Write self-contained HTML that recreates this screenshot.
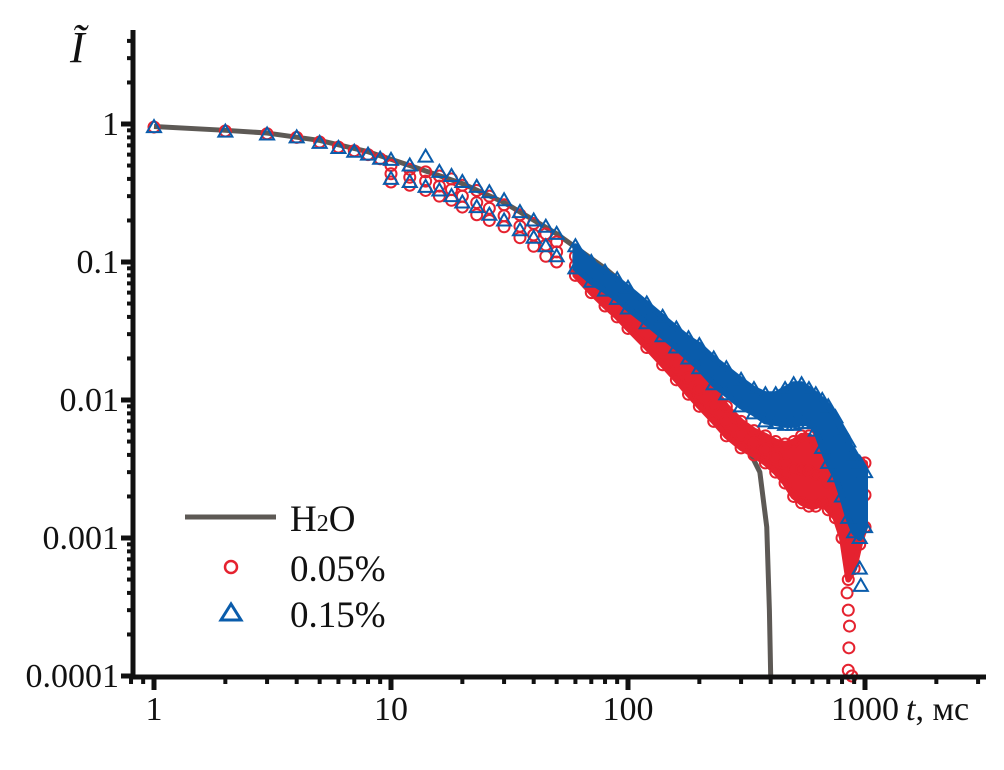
<!DOCTYPE html>
<html><head><meta charset="utf-8"><style>
body{margin:0;background:#fff}
svg text{font-family:"Liberation Serif",serif;fill:#111}
</style></head><body>
<svg id="chart" width="1004" height="770" viewBox="0 0 1004 770" xmlns="http://www.w3.org/2000/svg" style="position:absolute;left:0;top:0">
<g id="bands"></g><g id="marks"></g><g id="axes"></g>
</svg>
<script>
const h2oT=[1,2,3,5,8,12,20,30,50,80,120,180,250,320,360,385,395,400];
const h2oV=[0.96,0.9,0.86,0.76,0.63,0.5,0.37,0.27,0.16,0.09,0.05,0.022,0.009,0.0045,0.003,0.0012,0.0003,0.0001];
const earlyT=[1,2,3,4,5,6,7,8,9];
const redEarly=[0.95,0.89,0.85,0.8,0.74,0.68,0.64,0.6,0.56];
const blueEarly=[0.95,0.88,0.84,0.8,0.73,0.67,0.63,0.6,0.56];
const bandT=[10,12,14,16,18,20,23,26,30,35,40,45,50,60,70,80,90,100,120,140,160,180,200,230,260,300,340,380,420,460,500,540,580,620,660,700,750,800,850,900,950,1000];
const blueHi=[0.55,0.5,0.58,0.45,0.42,0.38,0.35,0.32,0.28,0.23,0.2,0.18,0.16,0.13,0.1,0.085,0.075,0.065,0.05,0.04,0.033,0.028,0.025,0.02,0.017,0.014,0.012,0.011,0.011,0.012,0.013,0.013,0.012,0.011,0.01,0.009,0.0075,0.006,0.005,0.004,0.0035,0.003];
const blueLo=[0.4,0.38,0.35,0.33,0.3,0.27,0.25,0.22,0.2,0.17,0.15,0.13,0.11,0.09,0.072,0.062,0.054,0.046,0.036,0.029,0.024,0.02,0.017,0.013,0.011,0.009,0.008,0.007,0.0068,0.0066,0.0066,0.0068,0.0068,0.006,0.0045,0.0035,0.0028,0.002,0.0014,0.0011,0.001,0.0012];
const redHi=[0.5,0.47,0.45,0.42,0.4,0.36,0.33,0.3,0.26,0.22,0.19,0.16,0.14,0.11,0.085,0.07,0.06,0.05,0.038,0.03,0.024,0.019,0.016,0.012,0.009,0.007,0.006,0.0055,0.005,0.0048,0.005,0.0055,0.0055,0.005,0.0045,0.004,0.0035,0.003,0.0028,0.003,0.0035,0.0035];
const redLo=[0.38,0.36,0.33,0.3,0.28,0.25,0.22,0.2,0.18,0.15,0.13,0.11,0.1,0.08,0.06,0.048,0.04,0.033,0.024,0.018,0.014,0.011,0.009,0.007,0.0055,0.0045,0.004,0.0035,0.003,0.0025,0.002,0.0018,0.0017,0.0017,0.0018,0.0016,0.0014,0.001,0.0005,0.0006,0.0009,0.0012];
const redTailT=[840,850,860,855,850,880];
const redTailV=[0.0004,0.0003,0.00023,0.00016,0.00011,0.0001];
const blueTailT=[950,960];
const blueTailV=[0.0006,0.00045];
const xTicks=[1,10,100,1000];
const xTickLabels=["1","10","100","1000"];
const yTicks=[1,0.1,0.01,0.001,0.0001];
const yTickLabels=["1","0.1","0.01","0.001","0.0001"];
const bandStartT=60;

const NS="http://www.w3.org/2000/svg";
const X=t=>154+237*Math.log10(t);
const Y=v=>124-138*Math.log10(v);
const RED="#e5222f",BLUE="#0a5cab",GRAY="#5d5955";
function mk(tag,attrs,parent){const e=document.createElementNS(NS,tag);for(const k in attrs)e.setAttribute(k,attrs[k]);document.getElementById(parent).appendChild(e);return e;}
function circ(t,v,name){const e=mk('circle',{cx:X(t),cy:Y(v),r:5.5,fill:'none',stroke:RED,'stroke-width':2},'marks');

}
function tri(t,v,name){const x=X(t),y=Y(v);const e=mk('polygon',{points:`${x},${y-7} ${x-7},${y+5} ${x+7},${y+5}`,fill:'none',stroke:BLUE,'stroke-width':2},'marks');

}
function band(hi,lo,color,name){const idx=bandT.map((t,i)=>i).filter(i=>bandT[i]>=bandStartT);
let p=idx.map(i=>X(bandT[i])+','+Y(hi[i]));for(let k=idx.length-1;k>=0;k--)p.push(X(bandT[idx[k]])+','+Y(lo[idx[k]]));
const e=mk('polygon',{points:p.join(' '),fill:color,stroke:color,'stroke-width':6,'stroke-linejoin':'round'},'marks');

}
{const d=h2oT.map((t,i)=>(i?'L':'M')+X(t)+','+Y(h2oV[i])).join(' ');
const e=mk('path',{d:d,fill:'none',stroke:GRAY,'stroke-width':5,'stroke-linejoin':'round'},'bands');

}
band(redHi,redLo,RED,'red-band');
earlyT.forEach((t,i)=>circ(t,redEarly[i],'red-point'));
bandT.forEach((t,i)=>{circ(t,redHi[i],'red-point');circ(t,redLo[i],'red-point');circ(t,Math.sqrt(redHi[i]*redLo[i]),'red-point');});
redTailT.forEach((t,i)=>circ(t,redTailV[i],'red-point'));
band(blueHi,blueLo,BLUE,'blue-band');
earlyT.forEach((t,i)=>tri(t,blueEarly[i],'blue-point'));
bandT.forEach((t,i)=>{tri(t,blueHi[i],'blue-point');tri(t,blueLo[i],'blue-point');});
blueTailT.forEach((t,i)=>tri(t,blueTailV[i],'blue-point'));
{const e=mk('line',{x1:133,y1:30,x2:133,y2:679,stroke:'#111','stroke-width':5},'axes');

}
{const e=mk('line',{x1:131,y1:677,x2:986,y2:677,stroke:'#111','stroke-width':5},'axes');

}
for(let d=0;d<4;d++)for(let m=1;m<10;m++){const t=Math.pow(10,d)*m;if(X(t)>985)continue;
mk('line',{x1:X(t),y1:677,x2:X(t),y2:m==1?690:684,stroke:'#111','stroke-width':m==1?5:4},'axes');}
[0.8,0.9].forEach(t=>mk('line',{x1:X(t),y1:677,x2:X(t),y2:684,stroke:'#111','stroke-width':4},'axes'));
for(let d=-4;d<0;d++)for(let m=1;m<10;m++){const v=Math.pow(10,d)*m;
mk('line',{x1:133,y1:Y(v),x2:m==1?121:127,y2:Y(v),stroke:'#111','stroke-width':m==1?5:4},'axes');}
[1,2,3,4].forEach(m=>mk('line',{x1:133,y1:Y(m),x2:m==1?121:127,y2:Y(m),stroke:'#111','stroke-width':m==1?5:4},'axes'));
xTicks.forEach((t,i)=>{const e=mk('text',{x:X(t),y:720,'font-size':34,'text-anchor':'middle'},'axes');e.textContent=xTickLabels[i];

});
yTicks.forEach((v,i)=>{const e=mk('text',{x:119,y:Y(v)+11,'font-size':34,'text-anchor':'end'},'axes');e.textContent=yTickLabels[i];

});
</script>
<svg style="position:absolute;left:0;top:0" width="1004" height="770">
<text x="906" y="720" font-size="34"><tspan font-style="italic">t</tspan>, мс</text>
<text x="70" y="62" font-size="44" font-style="italic">Ĩ</text>
<g>
<line x1="185" y1="517" x2="276" y2="517" stroke="#5d5955" stroke-width="5"/>
<text x="290" y="531" font-size="37">H<tspan font-size="24">2</tspan>O</text>
<circle cx="231" cy="567" r="6" fill="none" stroke="#e5222f" stroke-width="2.5"/>
<text x="290" y="581" font-size="37">0.05%</text>
<polygon points="231,604 221,620 241,620" fill="none" stroke="#0a5cab" stroke-width="3"/>
<text x="290" y="627" font-size="37">0.15%</text>
</g>
</svg>
</body></html>
